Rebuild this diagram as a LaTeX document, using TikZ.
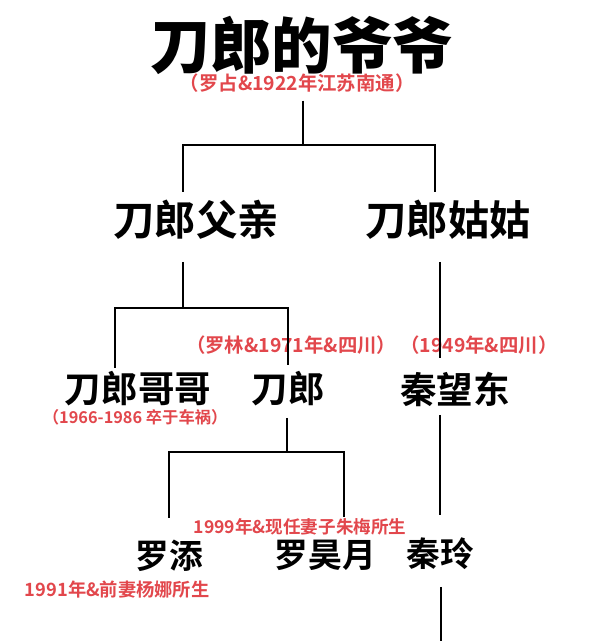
\documentclass[tikz,border=0pt]{standalone}
\usepackage{fontspec}
\newfontfamily\cjk[BoldFont={Noto Sans CJK SC Bold}]{Noto Sans CJK SC}
\newfontfamily\cjkheavy{Noto Sans CJK SC Black}
\definecolor{DLRed}{HTML}{E2474C}
\tikzset{
  member/.style={font=\cjk\bfseries\fontsize{#1}{#1}\selectfont,inner sep=1pt},
  note/.style={text=DLRed,font=\cjk\bfseries\fontsize{#1}{#1}\selectfont,inner sep=1pt},
}
\begin{document}
\begin{tikzpicture}[line width=1.8pt]
  \useasboundingbox[fill=white] (0,0) rectangle (15,16.025);
  % generations
  \node[member=43pt,font=\cjkheavy\fontsize{43pt}{43pt}\selectfont] (grandpa) at (7.55,14.9) {刀郎的爷爷};
  \node[note=13.8pt] (grandpaInfo) at (7.43,13.95) {（罗占\&1922年江苏南通）};
  \node[member=29.5pt] (father) at (4.9,10.53) {刀郎父亲};
  \node[member=29.5pt] (aunt) at (11.2,10.53) {刀郎姑姑};
  \node[note=13.8pt] (daolangInfo) at (7.28,7.4) {（罗林\&1971年\&四川）};
  \node[note=13.8pt,anchor=west,inner sep=0pt] (qinInfo) at (daolangInfo.east) {（1949年\&四川）};
  \node[member=26pt] (brother) at (3.45,6.3) {刀郎哥哥};
  \node[member=26pt] (daolang) at (7.2,6.3) {刀郎};
  \node[member=26pt] (qinwd) at (11.38,6.3) {秦望东};
  \node[note=11.6pt] (brotherInfo) at (3.38,5.6) {（1966-1986 卒于车祸）};
  \node[note=12.5pt] (haoyueInfo) at (7.5,2.85) {1999年\&现任妻子朱梅所生};
  \node[member=24pt] (luotian) at (4.23,2.13) {罗添};
  \node[member=24pt] (haoyue) at (8.13,2.13) {罗昊月};
  \node[member=24pt] (qinling) at (11.0,2.18) {秦玲};
  \node[note=13pt] (luotianInfo) at (2.93,1.28) {1991年\&前妻杨娜所生};
  % branch points
  \coordinate (j1) at (7.58,12.4);
  \coordinate (fatherTop) at (4.58,11.23);
  \coordinate (auntTop) at (10.88,11.23);
  \coordinate (fatherLow) at (4.58,9.48);
  \coordinate (j2) at (4.58,8.33);
  \coordinate (brotherTop) at (2.88,6.83);
  \coordinate (daolangTop) at (7.2,6.9);
  \coordinate (auntLow) at (11.0,9.48);
  \coordinate (qinTop) at (11.0,7.08);
  \coordinate (daolangLow) at (7.18,5.58);
  \coordinate (j3) at (7.18,4.73);
  \coordinate (luotianTop) at (4.23,3.08);
  \coordinate (haoyueTop) at (8.6,3.1);
  \coordinate (qinLow) at (11.0,5.65);
  \coordinate (qinlingTop) at (11.0,3.15);
  \coordinate (qinlingLow) at (11.03,1.35);
  \coordinate (qinlingEnd) at (11.03,0);
  % lines
  \draw ([yshift=-4pt]grandpaInfo.south -| j1) -- (j1);
  \draw (fatherTop) |- (j1) -| (auntTop);
  \draw (fatherLow) -- (j2);
  \draw (brotherTop) |- (j2) -| (daolangTop);
  \draw (auntLow) -- (qinTop);
  \draw (daolangLow) -- (j3);
  \draw (luotianTop) |- (j3) -| (haoyueTop);
  \draw (qinLow) -- (qinlingTop);
  \draw (qinlingLow) -- (qinlingEnd);
\end{tikzpicture}
\end{document}
